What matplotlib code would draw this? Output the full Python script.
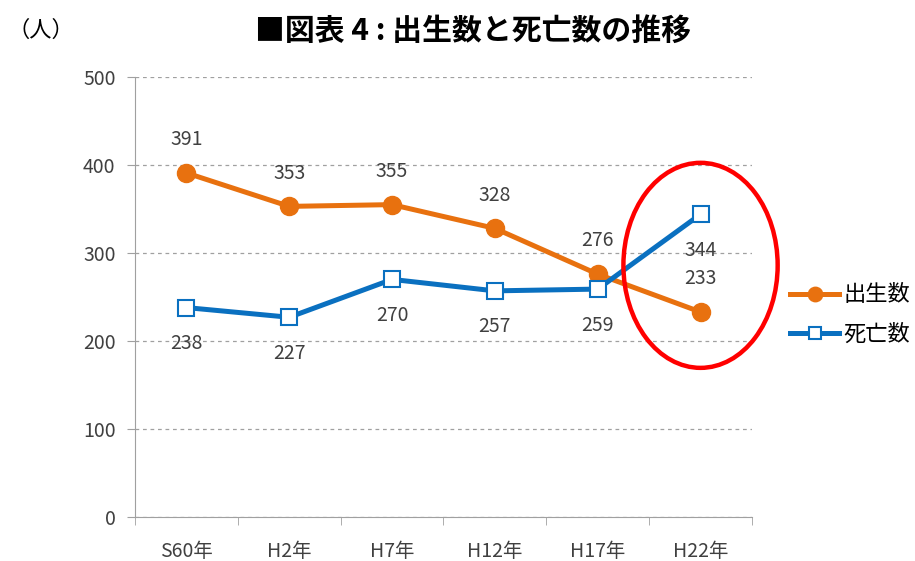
import numpy as np
import matplotlib.pyplot as plt
from matplotlib.patches import Ellipse

plt.rcParams['font.family'] = ['Noto Sans CJK JP', 'DejaVu Sans']

years = ['S60年', 'H2年', 'H7年', 'H12年', 'H17年', 'H22年']
births = [391, 353, 355, 328, 276, 233]
deaths = [238, 227, 270, 257, 259, 344]

orange = '#E8710F'
blue = '#0A70C0'
txt = '#404040'

fig = plt.figure(figsize=(9.15, 5.61), dpi=100)
ax = fig.add_axes([0.1475, 0.0784, 0.6743, 0.7843])

x = np.arange(len(years))
ax.plot(x, births, color=orange, lw=3.6, marker='o', ms=13, label='出生数', zorder=3)
ax.plot(x, deaths, color=blue, lw=3.6, marker='s', ms=11, mfc='white', mec=blue,
        mew=1.5, label='死亡数', zorder=3)

for i in range(len(x)):
    ax.annotate(str(births[i]), (x[i], births[i]), xytext=(0, 24), textcoords='offset points',
                ha='center', va='center', fontsize=14, color=txt)
    ax.annotate(str(deaths[i]), (x[i], deaths[i]), xytext=(0, -26), textcoords='offset points',
                ha='center', va='center', fontsize=14, color=txt)

# red ellipse highlighting H22
ax.add_patch(Ellipse((5, 286), 1.5, 233, fill=False, ec='#FF0000', lw=3.2, clip_on=False, zorder=4))

ax.set_xlim(-0.5, 5.5)
ax.set_ylim(0, 500)
ax.set_yticks(range(0, 501, 100))
ax.set_xticks(x)
ax.set_xticklabels(years)
ax.set_xticks(np.arange(-0.5, 6, 1), minor=True)
ax.tick_params(axis='x', which='major', length=0, pad=17, labelsize=14, labelcolor=txt)
ax.tick_params(axis='x', which='minor', length=6, color='#A0A0A0', direction='out')
ax.tick_params(axis='y', length=6, color='#A0A0A0', pad=8, labelsize=14, labelcolor=txt)
ax.yaxis.grid(True, ls=(0, (3, 3)), color='#A0A0A0', lw=0.9)
for s in ['top', 'right']:
    ax.spines[s].set_visible(False)
for s in ['left', 'bottom']:
    ax.spines[s].set_color('#A0A0A0')

ax.legend(loc='center left', bbox_to_anchor=(1.03, 0.46), frameon=False, fontsize=16,
          handlelength=2.2, handletextpad=0.2, labelspacing=0.75, markerscale=0.8)

fig.text(0.517, 0.945, '■図表 4 : 出生数と死亡数の推移', ha='center', va='center',
         fontsize=21.5, fontweight='bold')
fig.text(0.008, 0.945, '（人）', ha='left', va='center', fontsize=16)

fig.savefig('out.png', dpi=100)
